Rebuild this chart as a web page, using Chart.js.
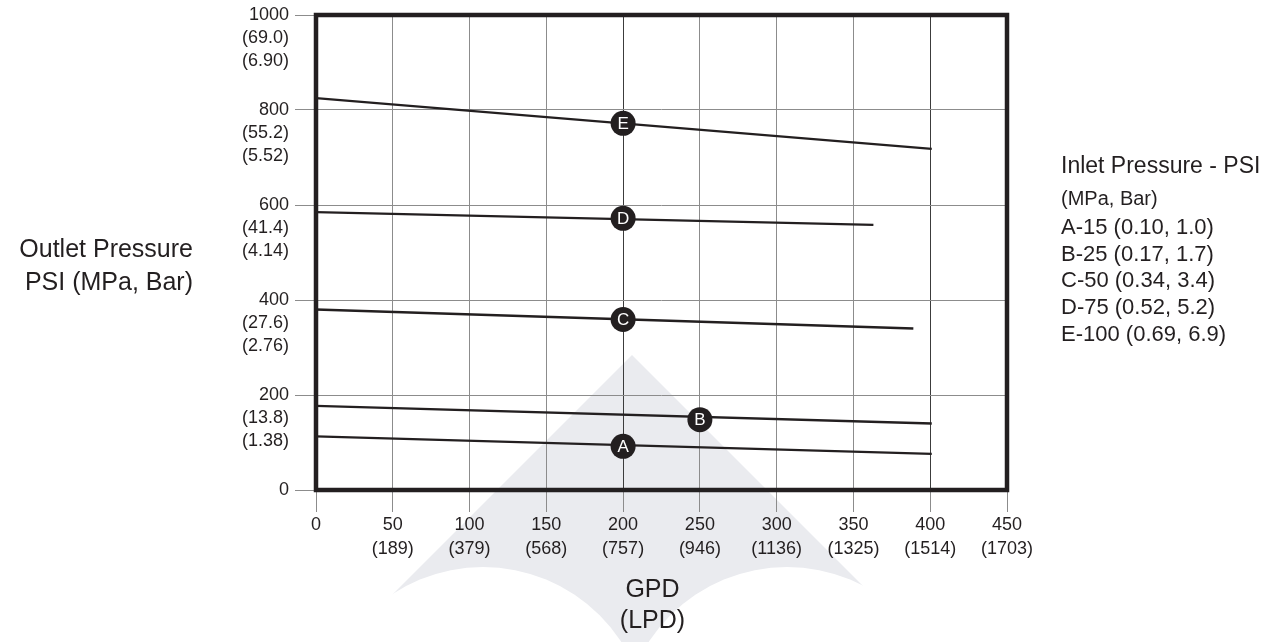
<!DOCTYPE html>
<html>
<head>
<meta charset="utf-8">
<title>Outlet Pressure vs GPD</title>
<script src="https://cdn.jsdelivr.net/npm/chart.js@4.4.1/dist/chart.umd.min.js"></script>
<style>
    html, body { margin: 0; padding: 0; background: #fff; }
    #wrap { width: 1280px; height: 642px; position: relative; }
</style>
</head>
<body>
<div id="wrap"><canvas id="pressureChart"></canvas></div>
<script>
// one line per inlet pressure
const lineNames = ["A", "B", "C", "D", "E"];
const lineGpd = [[0, 401], [0, 401], [0, 389], [0, 363], [0, 401]];
const linePsi = [[113, 76], [177, 140], [380, 340], [585, 558], [825, 718]];

// the round letter badges sitting on each line
const markerGpd = [200, 250, 200, 200, 200];
const markerPsi = [92, 148, 359, 572, 772];

const xTicksGpd = [0, 50, 100, 150, 200, 250, 300, 350, 400, 450];
const xTicksLpd = ["", "(189)", "(379)", "(568)", "(757)", "(946)", "(1136)", "(1325)", "(1514)", "(1703)"];
const yTicksPsi = [0, 200, 400, 600, 800, 1000];
const yTicksMpa = ["", "(13.8)", "(27.6)", "(41.4)", "(55.2)", "(69.0)"];
const yTicksBar = ["", "(1.38)", "(2.76)", "(4.14)", "(5.52)", "(6.90)"];

const yTitle = ["Outlet Pressure", "PSI (MPa, Bar)"];
const xTitle = ["GPD", "(LPD)"];
const legendTitle = "Inlet Pressure - PSI";
const legendUnits = "(MPa, Bar)";
const legendItems = ["A-15 (0.10, 1.0)", "B-25 (0.17, 1.7)", "C-50 (0.34, 3.4)", "D-75 (0.52, 5.2)", "E-100 (0.69, 6.9)"];

let ink = "#231f20";
let fontFamily = "'Liberation Sans', Arial, Helvetica, sans-serif";
Chart.defaults.font.family = fontFamily;
Chart.defaults.color = ink;

let datasets = [];
datasets.push({
    label: "markers",
    data: markerGpd.map((x, i) => ({ x: x, y: markerPsi[i] })),
    showLine: false,
    pointRadius: 12.5,
    pointHoverRadius: 12.5,
    pointBackgroundColor: ink,
    pointBorderWidth: 0,
    order: 0
});
lineNames.forEach((name, i) => {
    datasets.push({
        label: name,
        data: lineGpd[i].map((x, j) => ({ x: x, y: linePsi[i][j] })),
        showLine: true,
        borderColor: ink,
        borderWidth: 2.3,
        pointRadius: 0,
        order: 1
    });
});

const sheetPlugin = {
    id: "sheet",
    beforeDraw(chart) {
        let ctx = chart.ctx;
        ctx.save();
        ctx.fillStyle = "#fff";
        ctx.fillRect(0, 0, chart.width, chart.height);
        // faint logo behind the grid
        ctx.fillStyle = "#eaebef";
        ctx.beginPath();
        ctx.moveTo(632, 355);
        ctx.lineTo(919, 642);
        ctx.lineTo(345, 642);
        ctx.closePath();
        ctx.fill();
        ctx.fillStyle = "#fff";
        ctx.beginPath();
        ctx.arc(483, 732, 165, 0, Math.PI * 2);
        ctx.arc(787, 732, 165, 0, Math.PI * 2);
        ctx.fill();
        ctx.restore();
    },
    afterDatasetsDraw(chart) {
        let ctx = chart.ctx;
        let a = chart.chartArea;
        ctx.save();
        ctx.strokeStyle = ink;
        ctx.lineWidth = 4.5;
        ctx.strokeRect(a.left, a.top, a.right - a.left, a.bottom - a.top);

        let meta = chart.getDatasetMeta(0);
        ctx.fillStyle = "#fff";
        ctx.font = "17px " + fontFamily;
        ctx.textAlign = "center";
        ctx.textBaseline = "middle";
        meta.data.forEach((pt, i) => {
            ctx.fillText(lineNames[i], pt.x, pt.y + 1);
        });
        ctx.restore();
    },
    afterDraw(chart) {
        let ctx = chart.ctx;
        let a = chart.chartArea;
        ctx.save();
        ctx.fillStyle = ink;
        ctx.textBaseline = "middle";

        ctx.textAlign = "right";
        ctx.font = "25px " + fontFamily;
        ctx.fillText(yTitle[0], 193, 250);
        ctx.fillText(yTitle[1], 193, 283);

        // x title sits a little left of the plot centre on the sheet
        ctx.textAlign = "center";
        ctx.fillText(xTitle[0], (a.left + a.right) / 2 - 9, 590);
        ctx.fillText(xTitle[1], (a.left + a.right) / 2 - 9, 621);

        ctx.textAlign = "left";
        ctx.font = "23px " + fontFamily;
        ctx.fillText(legendTitle, 1061, 167);
        ctx.font = "20px " + fontFamily;
        ctx.fillText(legendUnits, 1061, 199);
        ctx.font = "22px " + fontFamily;
        legendItems.forEach((t, i) => {
            ctx.fillText(t, 1061, 228 + i * 26.7);
        });
        ctx.restore();
    }
};

let ctx = document.getElementById("pressureChart").getContext("2d");
let pressureChart = new Chart(ctx, {
    type: "scatter",
    data: { datasets: datasets },
    plugins: [sheetPlugin],
    options: {
        responsive: true,
        maintainAspectRatio: false,
        animation: false,
        layout: { padding: { left: 0, right: 273, top: 15, bottom: 0 } },
        plugins: {
            legend: { display: false },
            tooltip: { enabled: false }
        },
        scales: {
            x: {
                type: "linear",
                min: 0,
                max: 450,
                afterBuildTicks: (scale) => { scale.ticks = xTicksGpd.map(v => ({ value: v })); },
                ticks: {
                    autoSkip: false,
                    maxRotation: 0,
                    padding: 2,
                    color: ink,
                    font: { size: 18, lineHeight: 1.28 },
                    callback: (v) => {
                        let i = xTicksGpd.indexOf(v);
                        return xTicksLpd[i] ? [String(v), xTicksLpd[i]] : String(v);
                    }
                },
                grid: {
                    color: (c) => (c.tick && (c.tick.value === 200 || c.tick.value === 400)) ? "#3c3c3c" : "#8c8c8c",
                    tickColor: "#8c8c8c",
                    tickLength: 22,
                    lineWidth: 1
                },
                border: { display: false },
                afterFit: (scale) => {
                    scale.height = 152;
                }
            },
            y: {
                type: "linear",
                min: 0,
                max: 1000,
                afterBuildTicks: (scale) => { scale.ticks = yTicksPsi.map(v => ({ value: v })); },
                ticks: {
                    autoSkip: false,
                    padding: 6,
                    color: ink,
                    font: { size: 18, lineHeight: 1.28 },
                    callback: (v) => {
                        let i = yTicksPsi.indexOf(v);
                        return yTicksMpa[i] ? ["", "", String(v), yTicksMpa[i], yTicksBar[i]] : String(v);
                    }
                },
                grid: {
                    color: "#8c8c8c",
                    tickLength: 21,
                    lineWidth: 1
                },
                border: { display: false },
                afterFit: (scale) => {
                    scale.width = 316;
                    scale.paddingTop = 0;
                    scale.paddingBottom = 0;
                }
            }
        }
    }
});
</script>
</body>
</html>
